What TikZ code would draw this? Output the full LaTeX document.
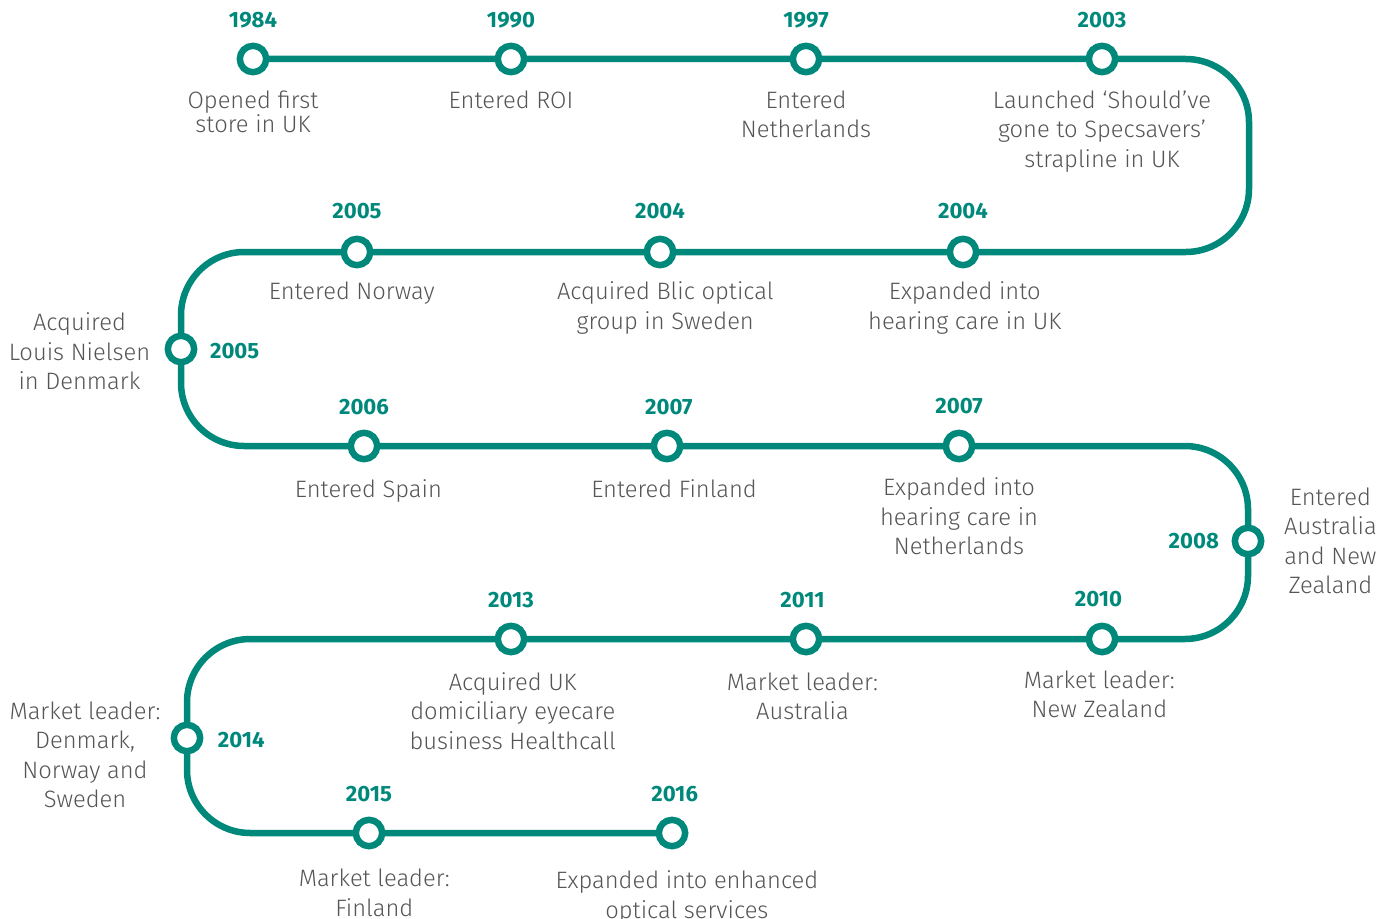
\documentclass[tikz,border=0pt]{standalone}
\usepackage{fontspec}
\setmainfont{Fira Sans}
\newfontfamily\lightfont{Fira Sans Light}
\usetikzlibrary{positioning,backgrounds}
\definecolor{trackteal}{HTML}{00897B}
\definecolor{txtgray}{HTML}{555555}

\begin{document}
\begin{tikzpicture}[x=0.02cm,y=-0.02cm,
    milestone/.style={circle,draw=trackteal,fill=white,line width=3.7pt,minimum size=15pt,inner sep=0pt},
    year/.style={font=\bfseries\fontsize{12.6}{14}\selectfont,text=trackteal,inner sep=0pt},
    info/.style={align=center,text=txtgray,font=\lightfont\fontsize{13.5}{16.8}\selectfont,inner sep=0pt},
    track/.style={draw=trackteal,line width=3.7pt,rounded corners=36pt}]

\useasboundingbox (0,0) rectangle (1399,919);

% milestones
\node[milestone] (n1984)  at (253,59)   {};
\node[milestone] (n1990)  at (511,59)   {};
\node[milestone] (n1997)  at (806,59)   {};
\node[milestone] (n2003)  at (1102,59)  {};
\node[milestone] (n2004b) at (963,252)  {};
\node[milestone] (n2004a) at (660,252)  {};
\node[milestone] (n2005a) at (357,252)  {};
\node[milestone] (n2005b) at (181,349)  {};
\node[milestone] (n2006)  at (364,446)  {};
\node[milestone] (n2007a) at (667,446)  {};
\node[milestone] (n2007b) at (959,446)  {};
\node[milestone] (n2008)  at (1248,541) {};
\node[milestone] (n2010)  at (1102,639) {};
\node[milestone] (n2011)  at (806,639)  {};
\node[milestone] (n2013)  at (511,639)  {};
\node[milestone] (n2014)  at (187,738)  {};
\node[milestone] (n2015)  at (369,833)  {};
\node[milestone] (n2016)  at (672,833)  {};

% turning points
\coordinate (c1) at (1249,59);
\coordinate (c2) at (1249,252);
\coordinate (c3) at (181,252);
\coordinate (c4) at (181,446);
\coordinate (c5) at (1248,446);
\coordinate (c6) at (1248,639);
\coordinate (c7) at (187,639);
\coordinate (c8) at (187,833);

\begin{scope}[on background layer]
\path[track] (n1984.center) -- (c1) -- (c2) -- (c3) -- (c4) -- (c5) -- (c6) -- (c7) -- (c8) -- (n2016.center);
\end{scope}

% years
\node[year, above=8pt of n1984]  (y1984)  {1984};
\node[year, above=8pt of n1990]  (y1990)  {1990};
\node[year, above=8pt of n1997]  (y1997)  {1997};
\node[year, above=8pt of n2003]  (y2003)  {2003};
\node[year, above=9.5pt of n2004b] (y2004b) {2004};
\node[year, above=9.5pt of n2004a] (y2004a) {2004};
\node[year, above=9.5pt of n2005a] (y2005a) {2005};
\node[year, right=7pt of n2005b, yshift=-1pt] (y2005b) {2005};
\node[year, above=8pt of n2006]  (y2006)  {2006};
\node[year, above=8pt of n2007a, xshift=1pt] (y2007a) {2007};
\node[year, above=9pt of n2007b] (y2007b) {2007};
\node[year, left=7pt of n2008]     (y2008)  {2008};
\node[year, above=9pt of n2010, xshift=-2pt] (y2010) {2010};
\node[year, above=8pt of n2011, xshift=-2pt] (y2011) {2011};
\node[year, above=8pt of n2013]  (y2013)  {2013};
\node[year, right=8pt of n2014, yshift=-1pt] (y2014) {2014};
\node[year, above=8pt of n2015]  (y2015)  {2015};
\node[year, above=8pt of n2016, xshift=1.5pt] (y2016) {2016};

% descriptions
\node[info, below=8.5pt of n1984, font=\lightfont\fontsize{13.5}{13.6}\selectfont] (t1984) {Opened first\\store in UK};
\node[info, below=8.5pt of n1990] (t1990) {Entered ROI};
\node[info, below=8.5pt of n1997] (t1997) {Entered\\Netherlands};
\node[info, below=8.5pt of n2003] (t2003) {Launched ‘Should’ve\\gone to Specsavers’\\strapline in UK};
\node[info, below=7.5pt of n2004b, xshift=1pt] (t2004b) {Expanded into\\hearing care in UK};
\node[info, below=7.5pt of n2004a, xshift=3pt] (t2004a) {Acquired Blic optical\\group in Sweden};
\node[info, below=7.5pt of n2005a, xshift=-3pt] (t2005a) {Entered Norway};
\node[info, left=8pt of n2005b, yshift=-1.5pt] (t2005b) {Acquired\\Louis Nielsen\\in Denmark};
\node[info, below=9.5pt of n2006, xshift=2.5pt] (t2006) {Entered Spain};
\node[info, below=9.5pt of n2007a, xshift=4pt] (t2007a) {Entered Finland};
\node[info, below=8.5pt of n2007b] (t2007b) {Expanded into\\hearing care in\\Netherlands};
\node[info, right=11pt of n2008] (t2008) {Entered\\Australia\\and New\\Zealand};
\node[info, below=8.5pt of n2010, xshift=-1.5pt] (t2010) {Market leader:\\New Zealand};
\node[info, below=9.5pt of n2011, xshift=-2pt] (t2011) {Market leader:\\Australia};
\node[info, below=9.5pt of n2013, xshift=1pt] (t2013) {Acquired UK\\domiciliary eyecare\\business Healthcall};
\node[info, left=5.5pt of n2014, yshift=-9.6pt] (t2014) {Market leader:\\Denmark,\\Norway and\\Sweden};
\node[info, below=11pt of n2015, xshift=3pt] (t2015) {Market leader:\\Finland};
\node[info, below=12pt of n2016, xshift=8.5pt] (t2016) {Expanded into enhanced\\optical services};
\end{tikzpicture}
\end{document}
